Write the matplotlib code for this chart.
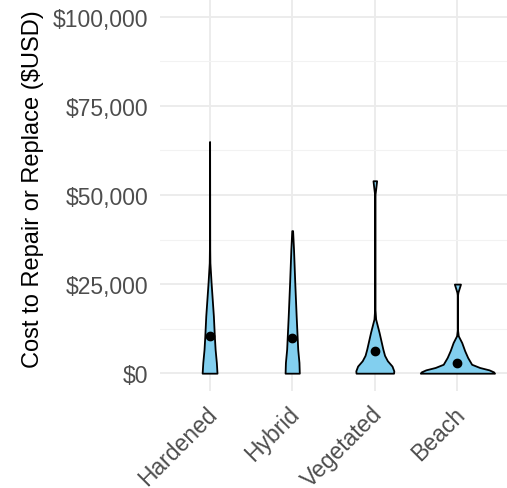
import numpy as np
import matplotlib
matplotlib.use("Agg")
import matplotlib.pyplot as plt
from matplotlib.ticker import MultipleLocator, FuncFormatter
from matplotlib.transforms import ScaledTranslation

plt.rcParams['font.family'] = ['Liberation Sans', 'DejaVu Sans']

categories = ["Hardened", "Hybrid", "Vegetated", "Beach"]
mean_cost = [10400, 10000, 6100, 2800]

# violin outlines: cost level -> half width (category units)
hardened_cost = [0, 3000, 6700, 10300, 16100, 25500, 31000, 34800, 65000]
hardened_width = [0.090, 0.082, 0.067, 0.058, 0.046, 0.018, 0.004, 0.002, 0.0005]

hybrid_cost = [0, 3000, 6700, 16100, 25500, 34800, 40000]
hybrid_width = [0.086, 0.082, 0.067, 0.048, 0.031, 0.016, 0.005]

vegetated_cost = [0, 650, 2000, 3500, 5000, 6700, 11400, 15200, 18000, 48000, 50300, 52000, 54000]
vegetated_width = [0.227, 0.230, 0.208, 0.152, 0.118, 0.098, 0.052, 0.010, 0.002, 0.001, 0.003, 0.012, 0.022]

beach_cost = [0, 370, 930, 1600, 2500, 4400, 6300, 8600, 10500, 12000, 22000, 22700, 25000]
beach_width = [0.449, 0.437, 0.383, 0.269, 0.172, 0.124, 0.088, 0.052, 0.010, 0.002, 0.002, 0.006, 0.037]

profiles = [(hardened_cost, hardened_width), (hybrid_cost, hybrid_width),
            (vegetated_cost, vegetated_width), (beach_cost, beach_width)]

fig = plt.figure(figsize=(5.07, 4.89), dpi=100)
ax = fig.add_axes([160/507, 97/489, 347/507, 392/489])

for i, (cost, width) in enumerate(profiles):
    pos = i + 1
    cost = np.array(cost)
    width = np.array(width)
    ax.fill_betweenx(cost, pos - width, pos + width, facecolor="#82CFEF",
                     edgecolor="black", linewidth=1.3, zorder=3)
    ax.plot(pos, mean_cost[i], "o", color="black", markersize=6, zorder=4)

ax.set_xlim(0.4, 4.6)
ax.set_ylim(-5000, 105000)
ax.set_xticks(range(1, 5))
ax.set_xticklabels(categories, rotation=45, ha="right", va="top")
ax.yaxis.set_major_locator(MultipleLocator(25000))
ax.yaxis.set_minor_locator(MultipleLocator(12500))
ax.yaxis.set_major_formatter(FuncFormatter(lambda v, p: f"${v:,.0f}"))

ax.grid(True, which="major", color="#ebebeb", linewidth=1.3, zorder=0)
ax.grid(True, which="minor", axis="y", color="#f2f2f2", linewidth=0.8, zorder=0)
ax.set_axisbelow(True)
for s in ax.spines.values():
    s.set_visible(False)
ax.tick_params(axis="both", which="both", length=0, labelsize=16.5, labelcolor="#4d4d4d")
ax.tick_params(axis="y", pad=8.5)
ax.tick_params(axis="x", pad=8)

offset = ScaledTranslation(12/100, 0, fig.dpi_scale_trans)
for lab in ax.get_xticklabels():
    lab.set_transform(lab.get_transform() + offset)

ax.set_ylabel("Cost to Repair or Replace ($USD)", fontsize=17, color="black")
ax.yaxis.label.set_va("center")
ax.yaxis.set_label_coords((33 - 160) / 347, 1 - 189 / 392)

fig.savefig("out.png", dpi=100)
